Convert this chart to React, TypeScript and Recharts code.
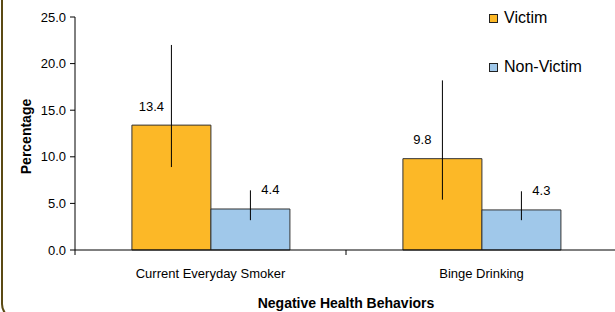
import React from 'react';
import { BarChart, Bar, XAxis, YAxis, ErrorBar, LabelList, Label } from 'recharts';

const categories = ['Current Everyday Smoker', 'Binge Drinking'];
const victim = [13.4, 9.8];
const victimLow = [8.9, 5.4];
const victimHigh = [22.0, 18.2];
const nonVictim = [4.4, 4.3];
const nonVictimLow = [3.2, 3.2];
const nonVictimHigh = [6.4, 6.3];
const yTicks = [0, 5, 10, 15, 20, 25];
const seriesNames = ['Victim', 'Non-Victim'];

const data = categories.map((c, i) => ({
  name: c,
  victim: victim[i],
  nonVictim: nonVictim[i],
  victimErr: [victim[i] - victimLow[i], victimHigh[i] - victim[i]],
  nonVictimErr: [nonVictim[i] - nonVictimLow[i], nonVictimHigh[i] - nonVictim[i]],
}));

const FONT = '"Liberation Sans", Arial, sans-serif';
const VICTIM_COLOR = '#FCB827';
const NON_COLOR = '#A0C8EA';
const colors = [VICTIM_COLOR, NON_COLOR];

const makeValueLabel = (shift: number) => (props: any) => {
  const { x, y, width, value } = props;
  return (
    <text x={x + width / 2 + shift} y={y - 19} textAnchor="middle" dominantBaseline="central" fontSize={13} fontFamily={FONT} fill="#000">
      {Number(value).toFixed(1)}
    </text>
  );
};

const CategoryTick = (props: any) => {
  const { x, y, payload, index } = props;
  const half = payload && payload.offset ? payload.offset : 0;
  return (
    <g>
      {index === 0 && half ? <line x1={x - half} y1={y} x2={x - half} y2={y + 5} stroke="#000" /> : null}
      {half ? <line x1={x + half} y1={y} x2={x + half} y2={y + 5} stroke="#000" /> : null}
      <text x={x} y={y + 23} textAnchor="middle" dominantBaseline="central" fontSize={13} fontFamily={FONT} fill="#000">
        {payload.value}
      </text>
    </g>
  );
};

const LegendBox = () => (
  <div style={{ position: 'absolute', left: 489, top: 8, fontFamily: FONT, fontSize: 16, color: '#000' }}>
    {seriesNames.map((label, i) => (
      <div key={label} style={{ display: 'flex', alignItems: 'center', height: 20, marginBottom: i === 0 ? 29 : 0 }}>
        <span style={{ display: 'inline-block', width: 7, height: 7, background: colors[i], border: '1px solid #222', marginRight: 6 }} />
        <span>{label}</span>
      </div>
    ))}
  </div>
);

const YLabel = (props: any) => {
  const { viewBox } = props;
  const cx = viewBox.x + 26;
  const cy = viewBox.y + viewBox.height / 2 + 3;
  return (
    <text x={cx} y={cy} transform={`rotate(-90 ${cx} ${cy})`} textAnchor="middle" dominantBaseline="central" fontSize={14} fontWeight="bold" fontFamily={FONT} fill="#000">
      Percentage
    </text>
  );
};

const XLabel = (props: any) => {
  const { viewBox } = props;
  return (
    <text x={346} y={viewBox.y + 53} textAnchor="middle" dominantBaseline="central" fontSize={14} fontWeight="bold" fontFamily={FONT} fill="#000">
      Negative Health Behaviors
    </text>
  );
};

export default function App() {
  return (
    <div style={{ position: 'fixed', left: 0, top: 0, width: 615, height: 312, overflow: 'hidden', background: '#fff' }}>
      <div style={{ position: 'absolute', left: 1, top: -20, width: 700, height: 340, boxSizing: 'border-box', border: '2px solid #5B4A14', borderRadius: 16 }} />
      <div style={{ position: 'absolute', left: 0, top: 0 }}>
        <BarChart width={625} height={312} data={data} margin={{ top: 17, right: 8, bottom: 0, left: 0 }} barCategoryGap="21%" barGap={0}>
          <XAxis
            dataKey="name"
            height={62}
            axisLine={{ stroke: '#000', strokeWidth: 1 }}
            tickLine={false}
            tickSize={0}
            tickMargin={0}
            tick={<CategoryTick />}
            interval={0}
          >
            <Label content={<XLabel />} />
          </XAxis>
          <YAxis
            width={75}
            domain={[0, 25]}
            ticks={yTicks}
            tickFormatter={(v: number) => v.toFixed(1)}
            axisLine={{ stroke: '#000' }}
            tickLine={{ stroke: '#000' }}
            tickSize={5}
            tickMargin={4}
            tick={{ fontSize: 13, fontFamily: FONT, fill: '#000' }}
            interval={0}
          >
            <Label content={<YLabel />} />
          </YAxis>
          <Bar dataKey="victim" name="Victim" fill={VICTIM_COLOR} stroke="#333" strokeWidth={1} isAnimationActive={false}>
            <ErrorBar dataKey="victimErr" width={0} stroke="#000" strokeWidth={1} direction="y" />
            <LabelList dataKey="victim" content={makeValueLabel(-20)} />
          </Bar>
          <Bar dataKey="nonVictim" name="Non-Victim" fill={NON_COLOR} stroke="#333" strokeWidth={1} isAnimationActive={false}>
            <ErrorBar dataKey="nonVictimErr" width={0} stroke="#000" strokeWidth={1} direction="y" />
            <LabelList dataKey="nonVictim" content={makeValueLabel(20)} />
          </Bar>
        </BarChart>
      </div>
      <LegendBox />
    </div>
  );
}
